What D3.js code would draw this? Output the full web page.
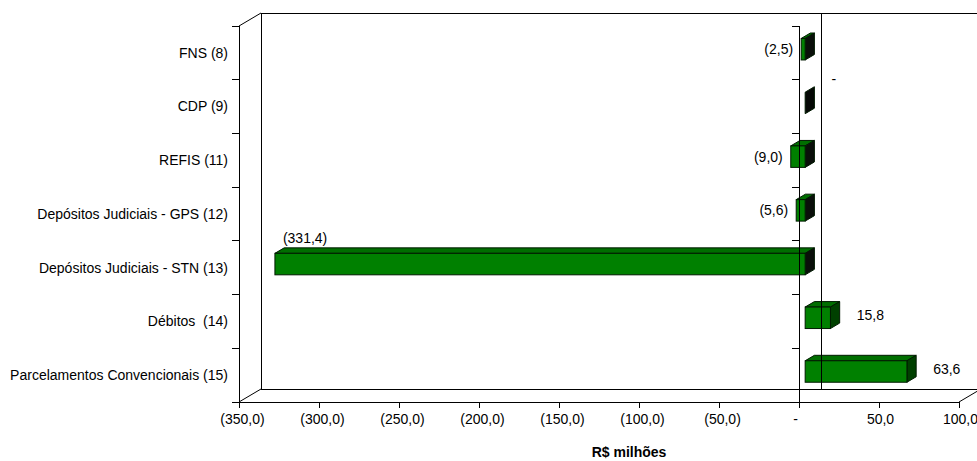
<!DOCTYPE html>
<html>
<head>
<meta charset="utf-8">
<script src="https://cdn.jsdelivr.net/npm/d3@7"></script>
<style>
  html, body { margin: 0; padding: 0; background: #fff; }
  svg { display: block; font-family: "Liberation Sans", Arial, sans-serif; }
  text { fill: #000; white-space: pre; }
</style>
</head>
<body>
<svg id="chart" width="977" height="461"></svg>
<script>
// Variação por item (R$ milhões)
const categories = [
  "FNS (8)",
  "CDP (9)",
  "REFIS (11)",
  "Depósitos Judiciais - GPS (12)",
  "Depósitos Judiciais - STN (13)",
  "Débitos  (14)",
  "Parcelamentos Convencionais (15)"
];
const values = [-2.5, 0, -9.0, -5.6, -331.4, 15.8, 63.6];
const valueTicks = [-350, -300, -250, -200, -150, -100, -50, 0, 50, 100];
const axisTitle = "R$ milhões";

(function draw() {
  const svg = d3.select("#chart");
  const FS = 14;

  // plot frame (front plane) and 3-D depth offset
  const pL = 239, pR = 959, pT = 26, pB = 402;
  const DX = 22, DY = -13;
  const t0 = 0.28, t1 = 0.70;           // bar depth span within the box

  const x = d3.scaleLinear().domain([-350, 100]).range([pL, pR]);
  const y = d3.scaleBand().domain(categories).range([pT, pB]).paddingInner(0).paddingOuter(0);
  const barH = y.bandwidth() / 2.5;

  // Brazilian number format: one decimal, comma, negatives in brackets, zero as dash
  const num = d3.formatLocale({ decimal: ",", thousands: ".", grouping: [3], currency: ["R$", ""] }).format(",.1f");
  const fmt = v => v === 0 ? "-" : (v < 0 ? "(" + num(-v) + ")" : num(v));

  const line = (x1, y1, x2, y2, crisp = true) => svg.append("line")
    .attr("x1", x1).attr("y1", y1).attr("x2", x2).attr("y2", y2)
    .attr("stroke", "#000").attr("stroke-width", 1)
    .attr("shape-rendering", crisp ? "crispEdges" : "auto");

  // back walls and floor
  line(pL + DX, pT + DY, pR + DX, pT + DY);
  line(pL + DX, pT + DY, pL + DX, pB + DY);
  line(pL + DX, pB + DY, pR + DX, pB + DY);
  line(pL, pT, pL + DX, pT + DY, false);
  line(pL, pB, pL + DX, pB + DY, false);
  line(pR, pB, pR + DX, pB + DY, false);

  // 3-D bars
  const bars = svg.append("g");
  categories.forEach((c, i) => {
    const v = values[i];
    const xa = x(Math.min(0, v)), xb = x(Math.max(0, v));
    const yc = y(c) + y.bandwidth() / 2;
    const fx0 = DX * t0, fy0 = DY * t0, bx = DX * t1, by = DY * t1;
    const yT = yc - barH / 2, yB = yc + barH / 2;
    const stroke = "#001a00";
    const side = v < 0 ? "#0a0f0a" : (v > 0 ? "#004000" : "#050805");
    const pts = a => a.map(p => p.join(",")).join(" ");
    if (xb > xa) {
      bars.append("polygon")
        .attr("points", pts([[xa + fx0, yT + fy0], [xb + fx0, yT + fy0], [xb + bx, yT + by], [xa + bx, yT + by]]))
        .attr("fill", "#006e00").attr("stroke", stroke).attr("stroke-width", 1);
    }
    bars.append("polygon")
      .attr("points", pts([[xb + fx0, yT + fy0], [xb + bx, yT + by], [xb + bx, yB + by], [xb + fx0, yB + fy0]]))
      .attr("fill", side).attr("stroke", stroke).attr("stroke-width", 1);
    if (xb > xa) {
      bars.append("rect")
        .attr("x", xa + fx0).attr("y", yT + fy0)
        .attr("width", xb - xa).attr("height", barH)
        .attr("fill", "#008000").attr("stroke", stroke).attr("stroke-width", 1);
    }

    // data label
    const mid = yc + DY * (t0 + t1) / 2;
    const lab = bars.append("text").attr("font-size", FS).text(fmt(v));
    if (v > 0) {
      lab.attr("x", xb + bx + 17).attr("y", mid).attr("dy", "0.35em");
    } else if (v === 0) {
      lab.attr("x", xb + bx + 17).attr("y", mid - barH).attr("dy", "0.35em");
    } else {
      const w = lab.node().getComputedTextLength();
      if (xa + fx0 - 8 - w < pL) {
        lab.attr("x", xa + fx0 + 8).attr("y", yT + by - 10).attr("dy", "0.35em");
      } else {
        lab.attr("x", xa + fx0 - 8).attr("y", yc + fy0).attr("dy", "0.35em").attr("text-anchor", "end");
      }
    }
  });

  // zero plane line drawn over the bars
  line(x(0) + DX, pT + DY, x(0) + DX, pB + DY);

  // category axes: front edge and at zero
  [pL, x(0)].forEach(px => {
    line(px, pT, px, pB);
    d3.range(categories.length + 1).forEach(k => {
      const ey = pT + k * y.step();
      line(px - 7, ey, px, ey);
    });
  });
  line(x(0), pB, x(0), pB + 6);

  // category labels
  svg.append("g").selectAll("text").data(categories).join("text")
    .attr("x", 228)
    .attr("y", d => y(d) + y.bandwidth() / 2)
    .attr("dy", "0.35em")
    .attr("text-anchor", "end")
    .attr("font-size", FS)
    .text(d => d);

  // value axis
  const xAxis = d3.axisBottom(x).tickValues(valueTicks).tickSize(6).tickPadding(6).tickFormat(fmt);
  const gx = svg.append("g").attr("transform", `translate(0,${pB})`).call(xAxis);
  gx.select(".domain").attr("stroke", "#000").attr("shape-rendering", "crispEdges");
  gx.selectAll(".tick line").attr("stroke", "#000").attr("shape-rendering", "crispEdges");
  gx.selectAll(".tick text")
    .attr("font-size", FS).attr("font-family", "Liberation Sans, Arial, sans-serif").attr("fill", "#000")
    .attr("dx", d => d < 0 ? 3 : (d === 0 ? -4 : 1));

  // axis title
  svg.append("text")
    .attr("x", 629).attr("y", 457)
    .attr("text-anchor", "middle")
    .attr("font-size", FS).attr("font-weight", "bold")
    .text(axisTitle);
})();
</script>
</body>
</html>
